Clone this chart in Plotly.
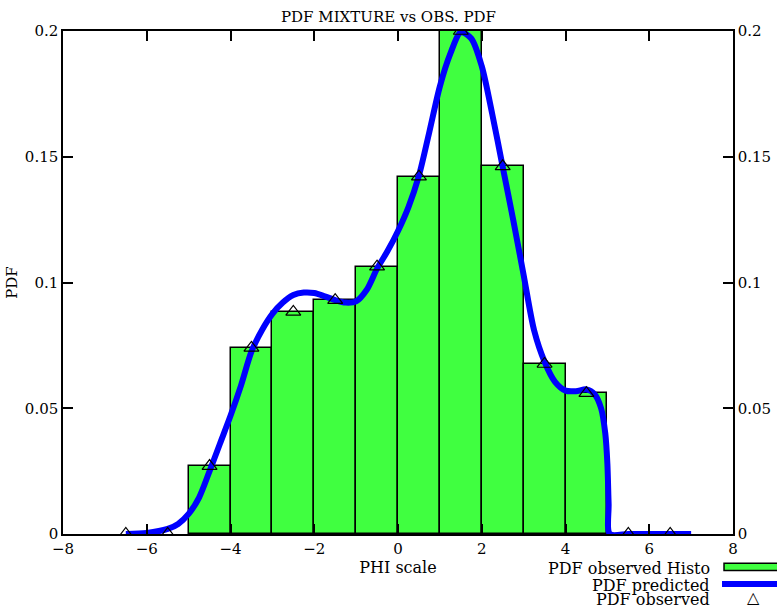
import plotly.graph_objects as go

# Observed histogram: unit-width bins centred on these PHI values
bin_centers = [-4.5, -3.5, -2.5, -1.5, -0.5, 0.5, 1.5, 2.5, 3.5, 4.5]
bin_pdf = [0.027, 0.074, 0.0883, 0.093, 0.1063, 0.1421, 0.2, 0.1462, 0.0676, 0.056]

# Observed PDF sampled at bin centres (including empty outer bins)
obs_x = [-6.5, -5.5, -4.5, -3.5, -2.5, -1.5, -0.5, 0.5, 1.5, 2.5, 3.5, 4.5, 5.5, 6.5]
obs_y = [0.0, 0.0, 0.027, 0.074, 0.0883, 0.093, 0.1063, 0.1421, 0.2, 0.1462, 0.0676, 0.056, 0.0, 0.0]

# Predicted mixture PDF
pred_x = [-6.5, -6.0, -5.5, -5.25, -5.0, -4.75, -4.5, -4.25, -4.0, -3.75, -3.5, -3.25,
          -3.0, -2.75, -2.5, -2.25, -2.0, -1.75, -1.5, -1.25, -1.0, -0.75, -0.5, -0.25,
          0.0, 0.25, 0.5, 0.75, 1.0, 1.25, 1.5, 1.75, 2.0, 2.25, 2.5, 2.75, 3.0, 3.25,
          3.5, 3.75, 4.0, 4.25, 4.5, 4.7, 4.85, 4.95, 5.0, 5.03, 5.06, 5.5, 6.0, 6.5, 7.0]
pred_y = [0.0, 0.0004, 0.002, 0.004, 0.008, 0.0145, 0.025, 0.036, 0.047, 0.059, 0.0725,
          0.081, 0.0875, 0.092, 0.095, 0.096, 0.0958, 0.0945, 0.093, 0.092, 0.0925,
          0.097, 0.1055, 0.1125, 0.1205, 0.13, 0.1425, 0.16, 0.178, 0.191, 0.1995,
          0.197, 0.186, 0.167, 0.146, 0.125, 0.103, 0.081, 0.0685, 0.0605, 0.057, 0.0568,
          0.0575, 0.0555, 0.05, 0.04, 0.028, 0.012, 0.0, 0.0, 0.0, 0.0, 0.0]

x_ticks = [-8, -6, -4, -2, 0, 2, 4, 6, 8]
y_ticks = [0, 0.05, 0.1, 0.15, 0.2]
y_tick_text = ["0", "0.05", "0.1", "0.15", "0.2"]

FONT = "DejaVu Serif"
GREEN = "#40ff40"
BLUE = "#0000ff"

fig = go.Figure()

fig.add_trace(go.Bar(
    x=bin_centers, y=bin_pdf, width=1.0,
    marker=dict(color=GREEN, line=dict(color="black", width=1.5)),
    showlegend=False, hoverinfo="x+y",
))

fig.add_trace(go.Scatter(
    x=pred_x, y=pred_y, mode="lines",
    line=dict(color=BLUE, width=6, shape="spline", smoothing=0.8),
    showlegend=False,
))

fig.add_trace(go.Scatter(
    x=obs_x, y=obs_y, mode="markers",
    marker=dict(symbol="triangle-up-open", size=13, color="black",
                line=dict(width=1.2, color="black")),
    showlegend=False,
))

# Empty trace so the right-hand axis is drawn
fig.add_trace(go.Scatter(x=[None], y=[None], yaxis="y2", showlegend=False,
                         hoverinfo="skip"))

axis_common = dict(
    showline=True, linecolor="black", linewidth=1.5,
    ticks="inside", ticklen=10, tickwidth=1.5, tickcolor="black",
    showgrid=False, zeroline=False, automargin=False,
    tickfont=dict(family=FONT, size=15, color="black"),
)

fig.update_layout(
    width=777, height=606,
    margin=dict(l=63, r=44, t=31, b=72),
    paper_bgcolor="white", plot_bgcolor="white",
    bargap=0,
    title=dict(text="PDF MIXTURE vs OBS. PDF", x=0.5, xanchor="center",
               y=1 - 17 / 606, yanchor="middle",
               font=dict(family=FONT, size=15, color="black")),
    xaxis=dict(range=[-8, 8], tickvals=x_ticks, mirror="ticks",
               title=dict(text="PHI scale", standoff=0,
                          font=dict(family=FONT, size=16, color="black")),
               **axis_common),
    yaxis=dict(range=[0, 0.2], tickvals=y_ticks, ticktext=y_tick_text,
               mirror="ticks",
               title=dict(text="PDF", standoff=4,
                          font=dict(family=FONT, size=15, color="black")),
               **axis_common),
    yaxis2=dict(range=[0, 0.2], tickvals=y_ticks, ticktext=y_tick_text,
                overlaying="y", side="right", **axis_common),
)

# Legend block at the lower right: right-aligned labels with samples after them
leg_labels = ["PDF observed Histo", "PDF predicted", "PDF observed"]
leg_y = [-0.0676, -0.1014, -0.131]
for lbl, yy in zip(leg_labels, leg_y):
    fig.add_annotation(xref="paper", yref="paper", x=0.9687, y=yy,
                       text=lbl, showarrow=False, xanchor="right", yanchor="middle",
                       font=dict(family=FONT, size=16, color="black"))

fig.add_shape(type="rect", xref="paper", yref="paper",
              x0=0.9866, x1=1.08, y0=-0.0726, y1=-0.0583,
              fillcolor=GREEN, line=dict(color="black", width=1.5))
fig.add_shape(type="line", xref="paper", yref="paper",
              x0=0.9836, x1=1.08, y0=-0.0994, y1=-0.0994,
              line=dict(color=BLUE, width=6))
fig.add_annotation(xref="paper", yref="paper", x=1.0299, y=-0.1272,
                   text="△", showarrow=False, xanchor="center", yanchor="middle",
                   font=dict(family="DejaVu Sans", size=16, color="black"))

fig.write_html("out.html")
